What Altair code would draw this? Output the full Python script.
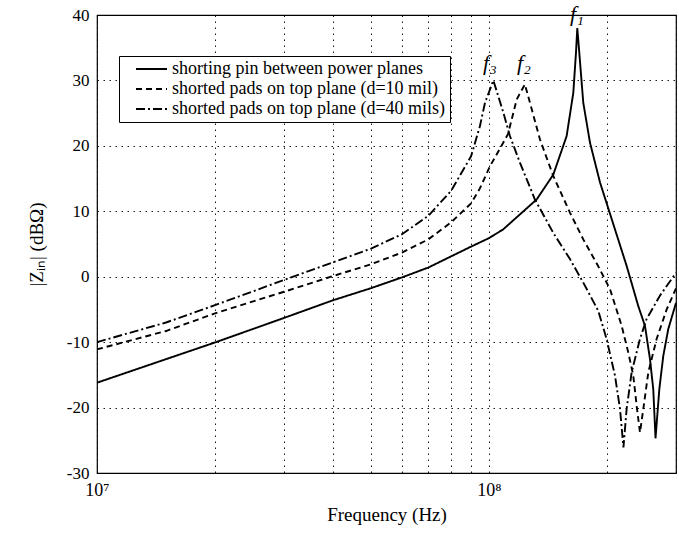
import altair as alt
import pandas as pd

series_names = [
    "shorting pin between power planes",
    "shorted pads on top plane (d=10 mil)",
    "shorted pads on top plane (d=40 mils)",
]

solid_f = [1e7, 1.5e7, 2e7, 3e7, 4e7, 5e7, 6e7, 7e7, 8e7, 9e7, 1.0e8, 1.088e8, 1.323e8,
           1.459e8, 1.578e8, 1.641e8, 1.667e8, 1.68e8, 1.70e8, 1.74e8, 1.81e8, 1.92e8,
           2.096e8, 2.245e8, 2.404e8, 2.50e8, 2.575e8, 2.625e8, 2.66e8, 2.72e8, 2.784e8,
           2.867e8, 3.0e8]
solid_z = [-16.2, -12.6, -10.05, -6.3, -3.6, -1.75, -0.1, 1.4, 3.1, 4.6, 5.9, 7.25, 11.8,
           15.6, 21.5, 28.1, 34.2, 38.0, 34.2, 26.6, 20.5, 14.4,
           7.25, 1.65, -4.5, -7.5, -12.6, -17.2, -24.7, -17.2, -12.1,
           -8.0, -4.0]

dashed_f = [1e7, 1.5e7, 2e7, 3e7, 4e7, 5e7, 6e7, 7e7, 8e7, 9e7, 9.48e7, 1.006e8, 1.088e8,
            1.118e8, 1.177e8, 1.235e8, 1.272e8, 1.349e8, 1.459e8, 1.609e8, 1.74e8, 1.90e8,
            2.036e8, 2.18e8, 2.267e8, 2.334e8, 2.386e8, 2.428e8, 2.476e8, 2.55e8, 2.678e8,
            2.84e8, 3.0e8]
dashed_z = [-11.1, -8.3, -5.6, -2.3, 0.1, 1.9, 3.7, 5.7, 8.3, 11.2, 13.5, 16.9, 20.5,
            21.8, 27.1, 29.4, 26.6, 21.0, 15.4, 9.8, 5.7, 1.6,
            -1.9, -7.5, -11.6, -15.1, -20.2, -23.8, -20.2, -14.6, -9.5,
            -5.0, -1.8]

dashdot_f = [1e7, 1.5e7, 2e7, 3e7, 4e7, 5e7, 6e7, 7e7, 8e7, 9e7, 9.48e7, 9.77e7, 1.026e8,
             1.088e8, 1.131e8, 1.2e8, 1.31e8, 1.459e8, 1.609e8, 1.74e8, 1.90e8, 1.995e8,
             2.096e8, 2.159e8, 2.203e8, 2.245e8, 2.312e8, 2.428e8, 2.523e8, 2.729e8, 3.0e8]
dashdot_z = [-10.0, -7.0, -4.35, -0.5, 2.2, 4.3, 6.5, 9.3, 13.1, 18.4, 23.0, 26.6, 30.0,
             25.1, 21.5, 17.4, 11.8, 6.7, 2.7, -0.9, -5.2, -9.5,
             -15.1, -20.2, -26.1, -20.2, -14.6, -9.5, -6.5, -2.9, 0.6]

peak_labels = ["f\u2081", "f\u2082", "f\u2083"]
peak_label_f = [1.677e8, 1.228e8, 1.006e8]
peak_label_z = [40.2, 32.6, 32.6]

x_grid = [1e7, 2e7, 3e7, 4e7, 5e7, 6e7, 7e7, 8e7, 9e7, 1e8, 2e8, 3e8]
y_ticks = [-30, -20, -10, 0, 10, 20, 30, 40]

rows = []
for name, fs, zs in zip(series_names, [solid_f, dashed_f, dashdot_f], [solid_z, dashed_z, dashdot_z]):
    for f, z in zip(fs, zs):
        rows.append({"series": name, "freq": f, "z": z})
df = pd.DataFrame(rows)

labels_df = pd.DataFrame({"text": peak_labels, "freq": peak_label_f, "z": peak_label_z})

FONT = "Liberation Serif"

x_scale = alt.Scale(type="log", domain=[1e7, 3e8], nice=False)
y_scale = alt.Scale(domain=[-30, 40], nice=False, zero=False)

x_axis = alt.Axis(
    values=x_grid,
    labelExpr="datum.value == 10000000 ? '10\u2077' : (datum.value == 100000000 ? '10\u2078' : '')",
    grid=True, gridDash=[1.5, 4.5], gridColor="#000000", gridOpacity=0.9,
    ticks=False, domain=False,
    labelFont=FONT, labelFontSize=18, labelColor="#000000", labelPadding=8,
    labelFlush=False,
    title="Frequency (Hz)", titleFont=FONT, titleFontSize=19, titleFontWeight="normal",
    titleColor="#000000", titlePadding=6,
)
y_axis = alt.Axis(
    values=y_ticks,
    labelExpr="'' + datum.value",
    grid=True, gridDash=[1.5, 4.5], gridColor="#000000", gridOpacity=0.9,
    ticks=False, domain=False,
    labelFont=FONT, labelFontSize=17, labelColor="#000000", labelPadding=8,
    title="|Z\u1d62\u2099| (dB\u03a9)", titleFont=FONT, titleFontSize=19,
    titleFontWeight="normal", titleColor="#000000", titlePadding=20,
)

lines = alt.Chart(df).mark_line(color="#000000", strokeWidth=1.9, clip=True).encode(
    x=alt.X("freq:Q", scale=x_scale, axis=x_axis),
    y=alt.Y("z:Q", scale=y_scale, axis=y_axis),
    strokeDash=alt.StrokeDash(
        "series:N",
        scale=alt.Scale(domain=series_names, range=[[1, 0], [6, 4], [9, 3, 2, 3]]),
        legend=alt.Legend(
            title=None, orient="none", legendX=22, legendY=41,
            strokeColor="#000000", fillColor="#ffffff", padding=4,
            symbolType="M0.8,0L7,0", symbolSize=100, symbolStrokeWidth=2,
            symbolStrokeColor="#000000",
            labelFont=FONT, labelFontSize=18, labelColor="#000000",
            labelOffset=31, rowPadding=2, labelLimit=500,
        ),
    ),
    order=alt.Order("freq:Q"),
)

texts = alt.Chart(labels_df).mark_text(
    font=FONT, fontSize=22, fontStyle="italic", color="#000000",
    align="center", baseline="middle",
).encode(
    x=alt.X("freq:Q", scale=x_scale),
    y=alt.Y("z:Q", scale=y_scale),
    text="text:N",
)

chart = alt.layer(lines, texts).properties(
    width=579, height=458,
    autosize=alt.AutoSizeParams(type="none"),
    padding={"left": 97, "top": 15, "right": 3, "bottom": 60},
    background="#ffffff",
).configure_view(stroke="#000000", strokeWidth=1.2)

chart.save("out.html", embed_options={"renderer": "svg", "actions": False})
